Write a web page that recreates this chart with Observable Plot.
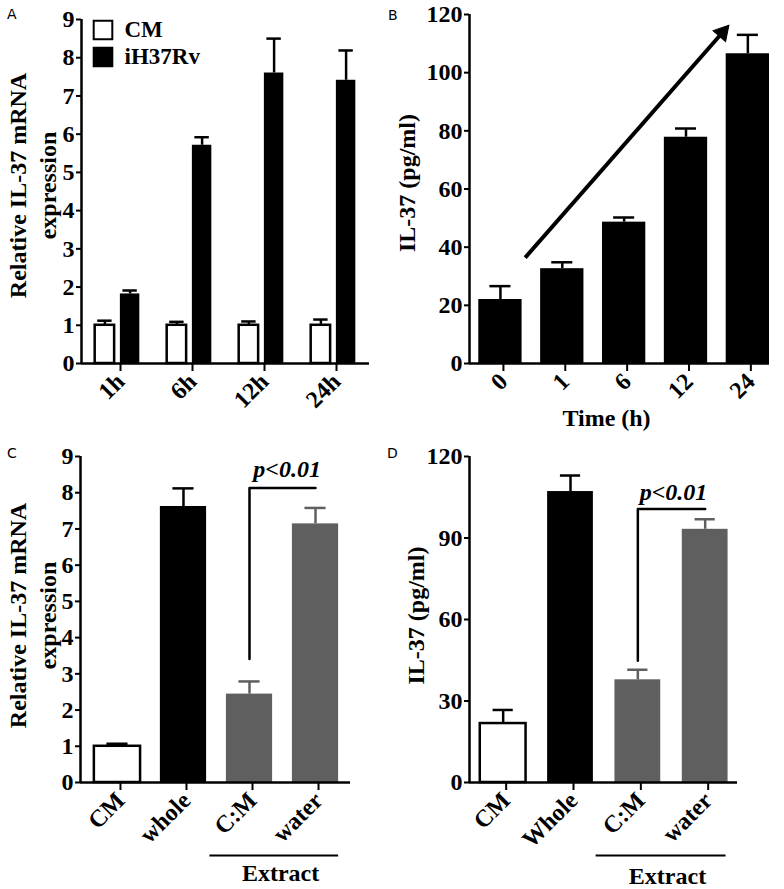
<!DOCTYPE html>
<html><head><meta charset="utf-8">
<script src="https://cdn.jsdelivr.net/npm/d3@7"></script>
<script src="https://cdn.jsdelivr.net/npm/@observablehq/plot@0.6"></script>
<style>
body{margin:0;background:#fff;}
#fig{position:relative;width:784px;height:889px;background:#fff;overflow:hidden;}
.panel{position:absolute;}
.lab{position:absolute;font-family:"DejaVu Sans",sans-serif;font-size:14px;line-height:16px;color:#000;}
</style></head><body>
<div id="fig"></div>
<script>
// ---------- Panel A: relative IL-37 mRNA over time ----------
const timesA = ["1h", "6h", "12h", "24h"];
const seriesA = ["CM", "iH37Rv"];
const seriesFillA = ["white", "black"];
const cmA = [1.0, 1.0, 1.0, 1.0];
const cmErrA = [0.12, 0.09, 0.10, 0.15];
const ihA = [1.82, 5.71, 7.60, 7.41];
const ihErrA = [0.09, 0.21, 0.90, 0.78];
const ticksA = [0, 1, 2, 3, 4, 5, 6, 7, 8, 9];

// ---------- Panel B: IL-37 protein over time ----------
const timesB = ["0", "1", "6", "12", "24"];
const il37B = [22.0, 32.6, 48.6, 77.8, 106.5];
const errB = [4.6, 2.2, 1.6, 3.0, 6.5];
const ticksB = [0, 20, 40, 60, 80, 100, 120];
const trendB = {x1: 0.4, y1: 36.4, x2: 3.59, y2: 113.8};

// ---------- Panel C: relative IL-37 mRNA by stimulus ----------
const groupsC = ["CM", "whole", "C:M", "water"];
const mrnaC = [1.0, 7.62, 2.44, 7.14];
const errC = [0.07, 0.50, 0.35, 0.44];
const ticksC = [0, 1, 2, 3, 4, 5, 6, 7, 8, 9];
const sigC = {from: 2, to: 3, low: 3.41, high: 8.13, label: "p<0.01", labelX: 2.57, labelY: 8.66};

// ---------- Panel D: IL-37 protein by stimulus ----------
const groupsD = ["CM", "Whole", "C:M", "water"];
const il37D = [21.7, 107.1, 37.8, 93.2];
const errD = [5.0, 5.9, 3.7, 3.7];
const ticksD = [0, 30, 60, 90, 120];
const sigD = {from: 2, to: 3, low: 44.8, high: 100.7, label: "p<0.01", labelX: 2.53, labelY: 106.8};

const groupFill = ["white", "black", "#5f5f5f", "#5f5f5f"];
const extractLabel = "Extract";

const FONT = "Liberation Serif";

function panel({height, mt, mb, ml, mr, xDomain, yDomain, yTicks, xLabels, marks}) {
  return Plot.plot({
    width: 392, height,
    marginTop: mt, marginBottom: mb, marginLeft: ml, marginRight: mr,
    x: {domain: xDomain},
    y: {domain: yDomain},
    style: {fontFamily: FONT, fontWeight: "bold", fontSize: "24px", color: "black", background: "white", overflow: "visible"},
    marks: [
      ...marks,
      Plot.ruleY([yDomain[0]], {strokeWidth: 2.5}),
      Plot.ruleX([xDomain[0]], {strokeWidth: 2.5}),
      Plot.axisY({ticks: yTicks, tickSize: 5, tickPadding: 2, strokeWidth: 2, label: null,
        fontSize: 24, fontFamily: FONT, fontWeight: "bold"}),
      Plot.axisX({ticks: d3.range(xLabels.length), tickFormat: i => xLabels[i], tickSize: 8, tickPadding: 6, tickRotate: -45,
        strokeWidth: 2, label: null, fontSize: 24, fontFamily: FONT, fontWeight: "bold", dx: 3})
    ]
  });
}

function barMarks(rows, half, cap) {
  return [
    Plot.rect(rows, {x1: d => d.x - half, x2: d => d.x + half, y1: 0, y2: "v", fill: "fill",
      stroke: d => d.fill === "white" ? "black" : "none", strokeWidth: 2.5}),
    Plot.ruleX(rows, {x: "x", y1: "v", y2: d => d.v + d.e, stroke: d => d.fill === "white" ? "black" : d.fill, strokeWidth: 2.5}),
    Plot.ruleY(rows, {y: d => d.v + d.e, x1: d => d.x - cap, x2: d => d.x + cap, stroke: d => d.fill === "white" ? "black" : d.fill, strokeWidth: 2.5})
  ];
}

function yTitle(text, dx, dy) {
  return Plot.text([text], {frameAnchor: "left", textAnchor: "middle", lineAnchor: "middle", rotate: -90, dx, dy,
    lineHeight: 1.25, fontSize: 24, fontWeight: "bold"});
}

function sigMarks(sig) {
  return [
    Plot.line([{x: sig.from, y: sig.low}, {x: sig.from, y: sig.high}, {x: sig.to, y: sig.high}], {x: "x", y: "y", strokeWidth: 2.5}),
    Plot.text([sig], {x: "labelX", y: "labelY", text: "label", fontStyle: "italic", fontWeight: "bold", fontSize: 24})
  ];
}

function extractMarks(x1, x2, xt, dyLine, dyText) {
  return [
    Plot.ruleY([0], {x1, x2, dy: dyLine, strokeWidth: 2}),
    Plot.text([extractLabel], {x: xt, y: 0, dy: dyText, fontSize: 24, fontWeight: "bold"})
  ];
}

const fig = document.getElementById("fig");
function place(node, left, top) {
  const d = document.createElement("div");
  d.className = "panel";
  d.style.left = left + "px";
  d.style.top = top + "px";
  d.appendChild(node);
  fig.appendChild(d);
}
function label(t, left, top) {
  const d = document.createElement("div");
  d.className = "lab";
  d.style.left = left + "px";
  d.style.top = top + "px";
  d.textContent = t;
  fig.appendChild(d);
}

// ---- A ----
const rowsA = timesA.flatMap((t, i) => [
  {x: i - 0.175, v: cmA[i], e: cmErrA[i], fill: seriesFillA[0]},
  {x: i + 0.175, v: ihA[i], e: ihErrA[i], fill: seriesFillA[1]}
]);
const legendA = seriesA.flatMap((s, i) => [
  Plot.dot([s], {frameAnchor: "top-left", dx: 21.5, dy: 10.5 + i * 27, symbol: "square", r: 10.5, fill: seriesFillA[i], stroke: "black", strokeWidth: 2}),
  Plot.text([s], {frameAnchor: "top-left", dx: 43, dy: 10.5 + i * 27, textAnchor: "start", lineAnchor: "middle", fontSize: 23, fontWeight: "bold"})
]);
place(panel({
  height: 440, mt: 19, mb: 77, ml: 81, mr: 23,
  xDomain: [-0.5, 3.5], yDomain: [0, 9], yTicks: ticksA, xLabels: timesA,
  marks: [...barMarks(rowsA, 0.135, 0.1), ...legendA, yTitle("Relative IL-37 mRNA\nexpression", -50, -6)]
}), 0, 0);

// ---- B ----
const rowsB = timesB.map((t, i) => ({x: i, v: il37B[i], e: errB[i], fill: "black"}));
place(panel({
  height: 440, mt: 14, mb: 77, ml: 77, mr: 15,
  xDomain: [-0.5, 4.35], yDomain: [0, 120], yTicks: ticksB, xLabels: timesB,
  marks: [
    ...barMarks(rowsB, 0.35, 0.17),
    Plot.link([trendB], {x1: "x1", y1: "y1", x2: "x2", y2: "y2", strokeWidth: 4}),
    Plot.dot([trendB], {x: "x2", y: "y2", symbol: "triangle", r: 6.2, rotate: 41.3, fill: "black", stroke: "black", strokeWidth: 1}),
    yTitle("IL-37 (pg/ml)", -64, -6),
    Plot.text(["Time (h)"], {frameAnchor: "bottom", lineAnchor: "middle", dx: -13, dy: 55, fontSize: 24, fontWeight: "bold"})
  ]
}), 392, 0);

// ---- C ----
const rowsC = groupsC.map((g, i) => ({x: i, v: mrnaC[i], e: errC[i], fill: groupFill[i]}));
place(panel({
  height: 449, mt: 16, mb: 107, ml: 80, mr: 42,
  xDomain: [-0.56, 3.53], yDomain: [0, 9], yTicks: ticksC, xLabels: groupsC,
  marks: [...barMarks(rowsC, 0.35, 0.16), ...sigMarks(sigC), ...extractMarks(1.4, 3.35, 2.47, 73, 91),
    yTitle("Relative IL-37 mRNA\nexpression", -49, -4)]
}), 0, 440);

// ---- D ----
const rowsD = groupsD.map((g, i) => ({x: i, v: il37D[i], e: errD[i], fill: groupFill[i]}));
place(panel({
  height: 449, mt: 16, mb: 107, ml: 77, mr: 47,
  xDomain: [-0.5, 3.48], yDomain: [0, 120], yTicks: ticksD, xLabels: groupsD,
  marks: [...barMarks(rowsD, 0.34, 0.15), ...sigMarks(sigD), ...extractMarks(1.38, 3.31, 2.44, 73, 94),
    yTitle("IL-37 (pg/ml)", -55, -4)]
}), 392, 440);

label("A", 7, 6);
label("B", 388, 7);
label("C", 7, 445);
label("D", 387, 445);
</script>
</body></html>
